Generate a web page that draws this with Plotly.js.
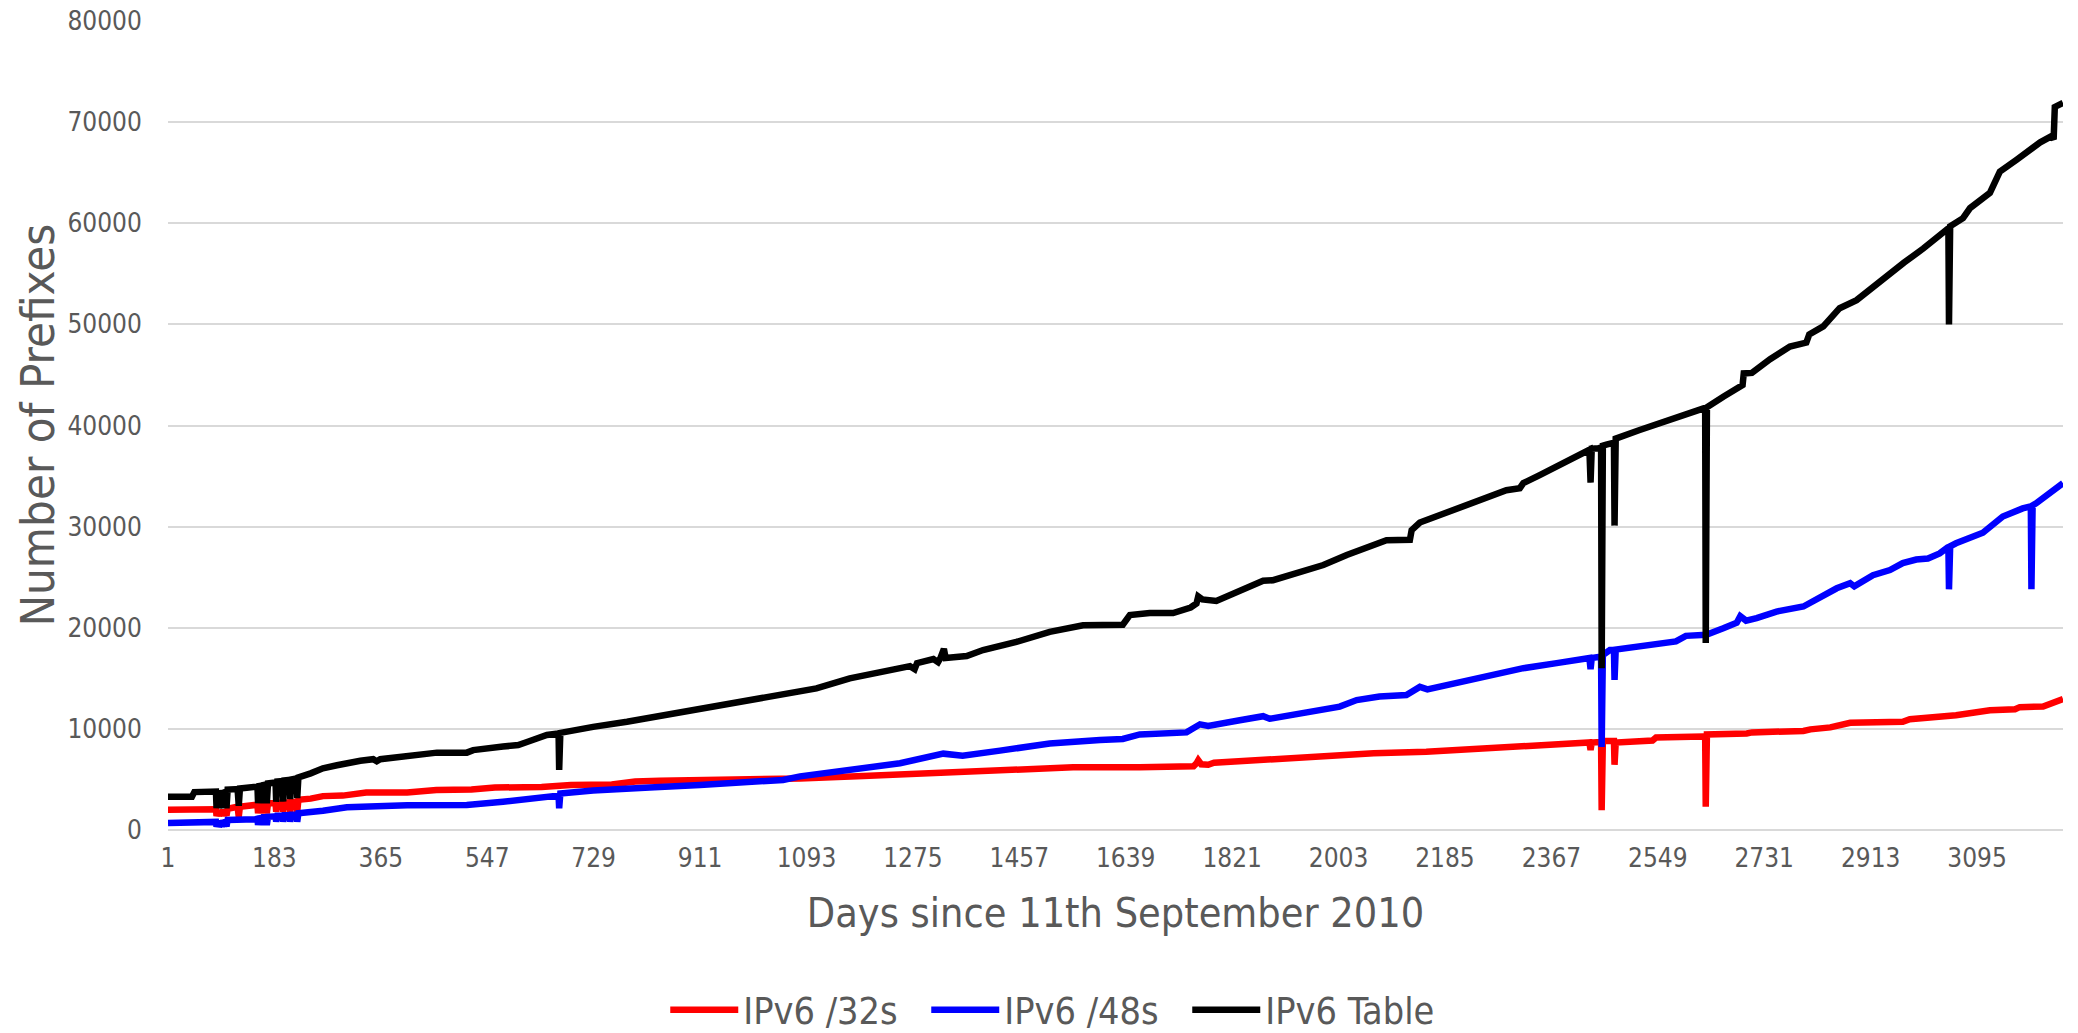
<!DOCTYPE html>
<html>
<head>
<meta charset="utf-8">
<script src="https://cdn.plot.ly/plotly-3.0.1.min.js"></script>
<style>
html,body{margin:0;padding:0;background:#ffffff;}
#chart{width:2078px;height:1033px;}
</style>
</head>
<body>
<div id="chart"></div>
<script>
// ---- Data: [day, number of prefixes] ----
const ipv6_32s = [[1,2000],[83,2050],[84,1400],[86,1900],[87,1900],[88,1400],[90,1900],[92,1950],[93,1400],[95,1950],[96,2000],[97,1400],[99,2000],[100,2000],[101,1400],[103,2100],[120,2300],[122,1320],[124,2300],[150,2350],[154,2500],[155,1650],[157,2550],[162,2550],[163,1650],[165,2600],[169,2600],[170,1650],[172,2650],[185,2650],[186,1800],[188,2700],[197,2700],[198,1800],[200,2700],[209,2750],[210,1800],[212,2750],[221,2800],[222,1800],[224,3000],[245,3100],[266,3350],[300,3400],[340,3700],[410,3700],[460,3950],[520,4000],[560,4200],[640,4250],[690,4450],[760,4500],[800,4800],[842,4880],[1053,4950],[1082,5100],[1190,5350],[1315,5650],[1424,5950],[1549,6200],[1663,6200],[1755,6300],[1760,6600],[1763,6900],[1768,6500],[1780,6450],[1790,6650],[1874,6950],[1971,7300],[2063,7600],[2153,7750],[2239,8050],[2341,8400],[2421,8650],[2432,8650],[2434,7900],[2436,8650],[2452,8700],[2453,1950],[2455,8800],[2474,8800],[2475,6450],[2477,8650],[2540,8850],[2546,9150],[2627,9250],[2630,9250],[2631,2300],[2633,9450],[2701,9550],[2710,9650],[2798,9800],[2810,9950],[2844,10150],[2878,10600],[2968,10700],[2980,10950],[3059,11350],[3110,11700],[3117,11850],[3160,11950],[3168,12150],[3208,12200],[3219,12450],[3242,12950]];

const ipv6_48s = [[1,700],[30,700],[33,800],[36,700],[80,800],[83,800],[84,330],[86,850],[87,850],[88,330],[90,900],[92,900],[93,330],[95,950],[96,950],[97,350],[99,1000],[100,1000],[101,350],[103,1000],[150,1060],[154,1100],[155,500],[157,1150],[162,1200],[163,500],[165,1250],[169,1250],[170,500],[172,1300],[185,1350],[186,820],[188,1400],[197,1400],[198,820],[200,1450],[209,1450],[210,820],[212,1500],[221,1500],[222,820],[224,1650],[266,1900],[278,2000],[284,1950],[307,2240],[410,2450],[512,2480],[574,2800],[649,3300],[669,3400],[670,2150],[672,3600],[728,3900],[786,4150],[825,4200],[911,4450],[1000,4750],[1053,4950],[1082,5300],[1167,6000],[1253,6600],[1327,7550],[1360,7350],[1424,7850],[1509,8550],[1595,8900],[1634,9000],[1663,9450],[1743,9650],[1766,10450],[1780,10300],[1834,10850],[1874,11250],[1885,11000],[1920,11350],[1960,11800],[2005,12200],[2034,12850],[2073,13200],[2119,13350],[2142,14150],[2155,13900],[2205,14550],[2262,15300],[2319,16000],[2376,16500],[2427,16950],[2432,17000],[2434,15900],[2436,17000],[2452,17150],[2453,8200],[2455,17300],[2467,17800],[2474,17800],[2475,14850],[2477,17850],[2518,18150],[2546,18500],[2580,18650],[2597,19200],[2632,19300],[2661,19950],[2684,20500],[2690,21150],[2700,20700],[2718,20950],[2752,21600],[2798,22100],[2821,22900],[2855,23900],[2878,24400],[2885,24100],[2917,25200],[2946,25700],[2968,26400],[2991,26750],[3011,26850],[3031,27350],[3046,28000],[3047,23800],[3049,28050],[3059,28350],[3105,29400],[3139,31000],[3173,31800],[3187,32000],[3188,23800],[3190,32100],[3196,32300],[3225,33600],[3234,34100],[3242,34300]];

const ipv6_table = [[1,3300],[42,3300],[46,3750],[83,3800],[84,2150],[86,3900],[87,3900],[88,2150],[90,3900],[92,3950],[93,2150],[95,3950],[96,3950],[97,2150],[99,4000],[100,4000],[101,2150],[103,4000],[120,4050],[122,2400],[124,4100],[140,4200],[154,4300],[155,2650],[157,4350],[162,4400],[163,2650],[165,4450],[169,4500],[170,2650],[172,4600],[185,4700],[186,2800],[188,4800],[197,4850],[198,2800],[200,4900],[209,4950],[210,3050],[212,5000],[221,5100],[222,3150],[224,5200],[245,5600],[266,6100],[290,6400],[307,6650],[330,6850],[352,7000],[358,6800],[364,7000],[410,7300],[461,7650],[512,7650],[523,7900],[574,8250],[600,8400],[615,8700],[649,9400],[669,9550],[670,5950],[672,9600],[690,9800],[728,10200],[786,10700],[825,11100],[882,11600],[939,12250],[996,12850],[1053,13450],[1110,14000],[1167,15000],[1224,15650],[1270,16200],[1278,15900],[1282,16500],[1310,16900],[1318,16600],[1322,17000],[1328,17900],[1331,17000],[1367,17200],[1395,17800],[1452,18600],[1509,19600],[1566,20250],[1634,20300],[1646,21250],[1680,21450],[1720,21450],[1750,22000],[1760,22400],[1763,23100],[1770,22800],[1794,22650],[1834,23650],[1874,24650],[1891,24700],[1931,25450],[1977,26200],[2017,27200],[2063,28100],[2085,28650],[2125,28700],[2128,29650],[2142,30400],[2177,31150],[2222,32250],[2262,32950],[2290,33600],[2313,33800],[2319,34300],[2347,35100],[2376,35900],[2427,37400],[2432,37600],[2434,34350],[2436,37700],[2447,37750],[2452,37800],[2453,16000],[2455,38000],[2461,38100],[2474,38300],[2475,30100],[2477,38700],[2518,39550],[2575,40700],[2604,41150],[2627,41700],[2630,41750],[2631,18500],[2633,41800],[2661,42850],[2690,43850],[2694,44000],[2696,45150],[2710,45200],[2741,46550],[2775,47800],[2803,48200],[2808,49000],[2832,49800],[2860,51600],[2889,52400],[2917,53700],[2957,55700],[2970,56100],[3003,57500],[3043,59300],[3046,59500],[3047,50000],[3049,59700],[3071,60500],[3083,61500],[3117,63000],[3126,64100],[3134,65100],[3163,66300],[3203,68000],[3222,68600],[3226,68300],[3228,71500],[3242,71900]];

const seriesNames = ['IPv6 /32s', 'IPv6 /48s', 'IPv6 Table'];
const xTickLabels = [1,183,365,547,729,911,1093,1275,1457,1639,1821,2003,2185,2367,2549,2731,2913,3095];
const lastDay = 3242;
const xTitle = 'Days since 11th September 2010';
const yTitle = 'Number of Prefixes';

// ---- Chart ----
const FONT = "Tahoma, 'DejaVu Sans Condensed', 'DejaVu Sans', sans-serif";
const TEXT = '#595959';
const colors = ['#FF0000', '#0000FF', '#000000'];
const allSeries = [ipv6_32s, ipv6_48s, ipv6_table];

const traces = allSeries.map((s, i) => ({
  type: 'scatter',
  mode: 'lines',
  name: seriesNames[i],
  x: s.map(p => p[0]),
  y: s.map(p => p[1]),
  line: {color: colors[i], width: 6.5, shape: 'linear'},
  hoverinfo: 'x+y+name'
}));

const layout = {
  width: 2078,
  height: 1033,
  margin: {l: 168, r: 15, t: 21, b: 203, pad: 0},
  paper_bgcolor: '#ffffff',
  plot_bgcolor: '#ffffff',
  font: {family: FONT, color: TEXT},
  showlegend: true,
  legend: {
    orientation: 'h',
    xref: 'paper', x: 0.469, xanchor: 'center',
    yref: 'container', y: 0.0223, yanchor: 'middle',
    font: {family: FONT, size: 37.5, color: TEXT},
    entrywidth: 178,
    entrywidthmode: 'pixels',
    itemwidth: 68,
    traceorder: 'normal'
  },
  xaxis: {
    type: 'linear',
    range: [1, lastDay],
    tickmode: 'array',
    tickvals: xTickLabels,
    ticktext: xTickLabels.map(String),
    showgrid: false,
    zeroline: false,
    showline: false,
    ticks: 'outside',
    ticklen: 5,
    tickcolor: 'rgba(0,0,0,0)',
    tickfont: {family: FONT, size: 26, color: TEXT},
    title: {text: xTitle, font: {family: FONT, size: 41, color: TEXT}, standoff: 26},
    automargin: false
  },
  yaxis: {
    range: [0, 80000],
    tick0: 0,
    dtick: 10000,
    tickformat: 'd',
    showgrid: true,
    gridcolor: '#D9D9D9',
    gridwidth: 2,
    zeroline: true,
    zerolinecolor: '#D9D9D9',
    zerolinewidth: 2,
    showline: false,
    ticks: 'outside',
    ticklen: 20,
    tickcolor: 'rgba(0,0,0,0)',
    tickfont: {family: FONT, size: 26, color: TEXT},
    automargin: false
  },
  annotations: [{
    text: yTitle,
    xref: 'paper', yref: 'paper',
    x: -0.0691, y: 0.5,
    xanchor: 'center', yanchor: 'middle',
    textangle: -90,
    showarrow: false,
    font: {family: FONT, size: 47, color: TEXT}
  }]
};

Plotly.newPlot('chart', traces, layout, {displayModeBar: false, responsive: false});
</script>
</body>
</html>
